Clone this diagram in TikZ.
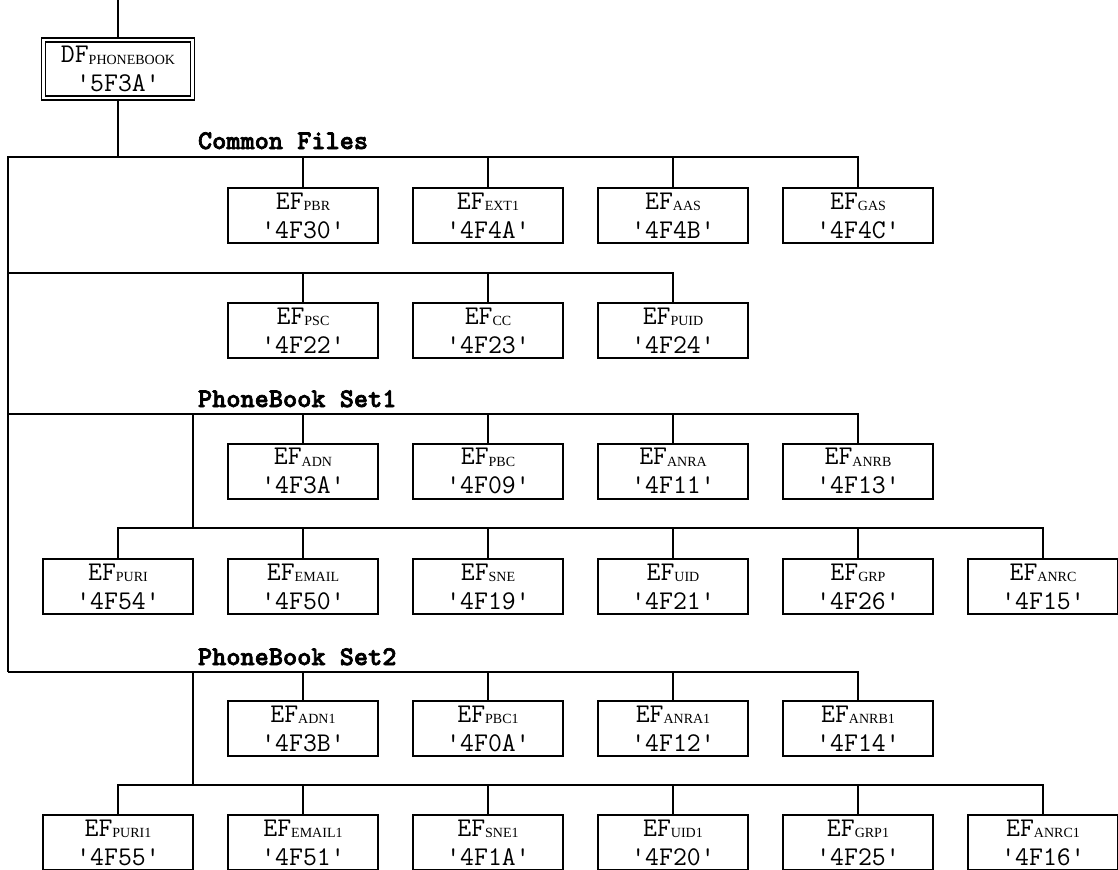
\documentclass[tikz,border=0pt]{standalone}
\usepackage{fontspec}
\newfontfamily\subfont{Liberation Serif}
\newfontface\labelfont[FakeBold=2.5]{lmmonolt10-bold.otf}
\usetikzlibrary{calc}

% file identifier: name, subscript, file id
\newcommand{\fileid}[3]{#1\raisebox{-0.8pt}{\subfont\fontsize{7}{8}\selectfont #2}\\'#3'}

\begin{document}
\begin{tikzpicture}[
    x=0.5pt, y=-0.5pt,
    line width=1pt,
    filebox/.style={draw, line width=1pt, align=center, font=\ttfamily\fontsize{13.5}{14.5}\selectfont, minimum width=75pt, minimum height=27.5pt, inner sep=0pt},
    dfbox/.style={filebox, double, line width=0.8pt, double distance=1.3pt, minimum width=74.5pt, minimum height=29pt},
    grouplabel/.style={font=\labelfont\fontsize{13.5}{14}\selectfont, inner sep=0pt, anchor=base west}
]
\useasboundingbox (0,0) rectangle (1118,869);
\clip (0,0) rectangle (1118,869);
% DF
\coordinate (top) at (118,0);
\node[dfbox] (df) at (118,69) {\fileid{DF}{PHONEBOOK}{5F3A}};
% Common files
\node[grouplabel] (lcommon) at (197,149) {Common Files};
\node[filebox] (pbr) at (303,215.5) {\fileid{EF}{PBR}{4F30}};
\node[filebox] (ext) at (488,215.5) {\fileid{EF}{EXT1}{4F4A}};
\node[filebox] (aas) at (673,215.5) {\fileid{EF}{AAS}{4F4B}};
\node[filebox] (gas) at (858,215.5) {\fileid{EF}{GAS}{4F4C}};
\node[filebox] (psc) at (303,330.5) {\fileid{EF}{PSC}{4F22}};
\node[filebox] (cc) at (488,330.5) {\fileid{EF}{CC}{4F23}};
\node[filebox] (puid) at (673,330.5) {\fileid{EF}{PUID}{4F24}};
% PhoneBook Set1
\node[grouplabel] (lset1) at (197,407) {PhoneBook Set1};
\node[filebox] (adn) at (303,471) {\fileid{EF}{ADN}{4F3A}};
\node[filebox] (pbc) at (488,471) {\fileid{EF}{PBC}{4F09}};
\node[filebox] (anra) at (673,471) {\fileid{EF}{ANRA}{4F11}};
\node[filebox] (anrb) at (858,471) {\fileid{EF}{ANRB}{4F13}};
\node[filebox] (puri) at (118,586.5) {\fileid{EF}{PURI}{4F54}};
\node[filebox] (email) at (303,586.5) {\fileid{EF}{EMAIL}{4F50}};
\node[filebox] (sne) at (488,586.5) {\fileid{EF}{SNE}{4F19}};
\node[filebox] (uid) at (673,586.5) {\fileid{EF}{UID}{4F21}};
\node[filebox] (grp) at (858,586.5) {\fileid{EF}{GRP}{4F26}};
\node[filebox] (anrc) at (1043,586.5) {\fileid{EF}{ANRC}{4F15}};
% PhoneBook Set2
\node[grouplabel] (lset2) at (197,665) {PhoneBook Set2};
\node[filebox] (adn1) at (303,728.5) {\fileid{EF}{ADN1}{4F3B}};
\node[filebox] (pbc1) at (488,728.5) {\fileid{EF}{PBC1}{4F0A}};
\node[filebox] (anra1) at (673,728.5) {\fileid{EF}{ANRA1}{4F12}};
\node[filebox] (anrb1) at (858,728.5) {\fileid{EF}{ANRB1}{4F14}};
\node[filebox] (puri1) at (118,842.5) {\fileid{EF}{PURI1}{4F55}};
\node[filebox] (email1) at (303,842.5) {\fileid{EF}{EMAIL1}{4F51}};
\node[filebox] (sne1) at (488,842.5) {\fileid{EF}{SNE1}{4F1A}};
\node[filebox] (uid1) at (673,842.5) {\fileid{EF}{UID1}{4F20}};
\node[filebox] (grp1) at (858,842.5) {\fileid{EF}{GRP1}{4F25}};
\node[filebox] (anrc1) at (1043,842.5) {\fileid{EF}{ANRC1}{4F16}};
% Bus coordinates
\coordinate (c1) at (8,157);
\coordinate (c2) at (8,273);
\coordinate (s1) at (8,414);
\coordinate (s1m) at (193,528);
\coordinate (s2) at (8,672);
\coordinate (s2m) at (193,785);
% Lines
\draw (top) -- (df.north);
\draw (df.south) -- (df.south |- c1);
\draw (s2) -- (c1) -| (gas.north);
\draw (pbr.north) -- (pbr.north |- c1);
\draw (ext.north) -- (ext.north |- c1);
\draw (aas.north) -- (aas.north |- c1);
\draw (c2) -| (puid.north);
\draw (psc.north) -- (psc.north |- c2);
\draw (cc.north) -- (cc.north |- c2);
\draw (s1) -| (anrb.north);
\draw (adn.north) -- (adn.north |- s1);
\draw (pbc.north) -- (pbc.north |- s1);
\draw (anra.north) -- (anra.north |- s1);
\draw (s1m) -- (s1m |- s1);
\draw (puri.north) |- (s1m) -| (anrc.north);
\draw (email.north) -- (email.north |- s1m);
\draw (sne.north) -- (sne.north |- s1m);
\draw (uid.north) -- (uid.north |- s1m);
\draw (grp.north) -- (grp.north |- s1m);
\draw (s2) -| (anrb1.north);
\draw (adn1.north) -- (adn1.north |- s2);
\draw (pbc1.north) -- (pbc1.north |- s2);
\draw (anra1.north) -- (anra1.north |- s2);
\draw (s2m) -- (s2m |- s2);
\draw (puri1.north) |- (s2m) -| (anrc1.north);
\draw (email1.north) -- (email1.north |- s2m);
\draw (sne1.north) -- (sne1.north |- s2m);
\draw (uid1.north) -- (uid1.north |- s2m);
\draw (grp1.north) -- (grp1.north |- s2m);
\end{tikzpicture}
\end{document}
